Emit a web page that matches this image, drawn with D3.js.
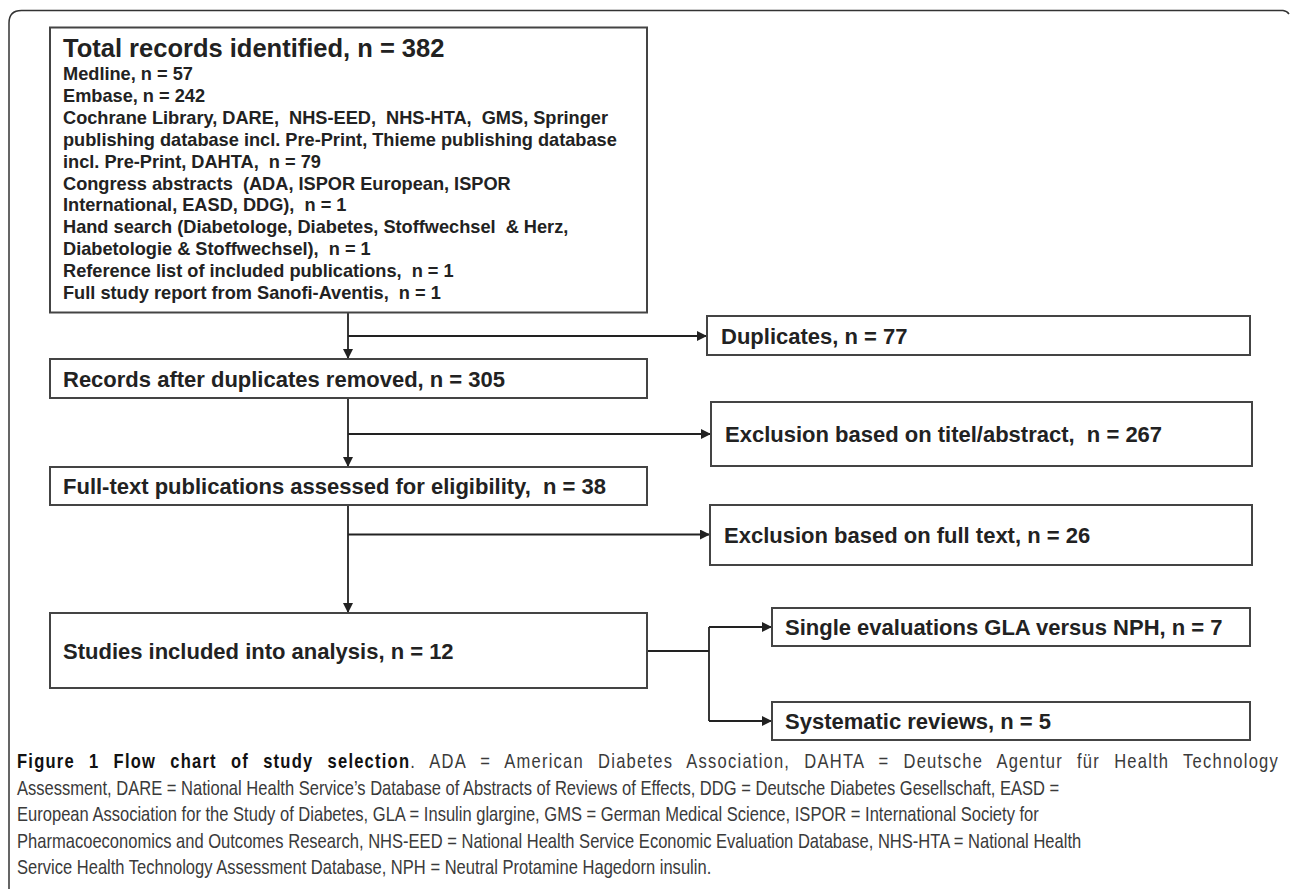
<!DOCTYPE html>
<html>
<head>
<meta charset="utf-8">
<script src="https://cdn.jsdelivr.net/npm/d3@7"></script>
<style>
  body { margin: 0; background: #fff; }
  svg text { white-space: pre; }
</style>
</head>
<body>
<svg id="chart" width="1290" height="889"></svg>
<script>
// ---- data ----
var totalLabel = "Total records identified";
var totalCount = 382;
var sourceLines = [
  "Medline, n = 57",
  "Embase, n = 242",
  "Cochrane Library, DARE,  NHS-EED,  NHS-HTA,  GMS, Springer",
  "publishing database incl. Pre-Print, Thieme publishing database",
  "incl. Pre-Print, DAHTA,  n = 79",
  "Congress abstracts  (ADA, ISPOR European, ISPOR",
  "International, EASD, DDG),  n = 1",
  "Hand search (Diabetologe, Diabetes, Stoffwechsel  & Herz,",
  "Diabetologie & Stoffwechsel),  n = 1",
  "Reference list of included publications,  n = 1",
  "Full study report from Sanofi-Aventis,  n = 1"
];
var stageLabels = ["Records after duplicates removed", "Full-text publications assessed for eligibility", "Studies included into analysis"];
var stageCounts = [305, 38, 12];
var exclusionLabels = ["Duplicates", "Exclusion based on titel/abstract", "Exclusion based on full text"];
var exclusionCounts = [77, 267, 26];
var outcomeLabels = ["Single evaluations GLA versus NPH", "Systematic reviews"];
var outcomeCounts = [7, 5];
var captionTitle = "Figure 1 Flow chart of study selection";
var captionLines = [
  ". ADA = American Diabetes Association, DAHTA = Deutsche Agentur für Health Technology",
  "Assessment, DARE = National Health Service’s Database of Abstracts of Reviews of Effects, DDG = Deutsche Diabetes Gesellschaft, EASD =",
  "European Association for the Study of Diabetes, GLA = Insulin glargine, GMS = German Medical Science, ISPOR = International Society for",
  "Pharmacoeconomics and Outcomes Research, NHS-EED = National Health Service Economic Evaluation Database, NHS-HTA = National Health",
  "Service Health Technology Assessment Database, NPH = Neutral Protamine Hagedorn insulin."
];

// ---- layout ----
var svg = d3.select("#chart");
var FONT = "'Liberation Sans', Arial, sans-serif";
var INK = "#222";
var BOX = "#444";

var leftX = 50, leftW = 597;
var stageBoxes = [
  {y: 359, h: 39},
  {y: 467, h: 38},
  {y: 613, h: 75}
];
var exclBoxes = [
  {x: 707, y: 316, w: 543, h: 39},
  {x: 711, y: 402, w: 541, h: 64},
  {x: 710, y: 505, w: 542, h: 60}
];
var outBoxes = [
  {x: 772, y: 608, w: 478, h: 38},
  {x: 772, y: 702, w: 478, h: 38}
];
var spineX = 348;
var branchY = [336, 434, 534.5];

svg.append("defs").append("marker")
  .attr("id", "arrowHead")
  .attr("viewBox", "0 0 10 10")
  .attr("refX", 10).attr("refY", 5)
  .attr("markerWidth", 10).attr("markerHeight", 10)
  .attr("markerUnits", "userSpaceOnUse")
  .attr("orient", "auto")
  .append("path").attr("d", "M0,0L10,5L0,10Z").attr("fill", INK);

// outer frame (only top and left edges show)
svg.append("path")
  .attr("d", "M9,889L9,23Q9,10.5 21.5,10.5L1283,10.5Q1287,11 1289,14")
  .attr("fill", "none").attr("stroke", "#333").attr("stroke-width", 1.5);

function box(x, y, w, h) {
  svg.append("rect").attr("x", x).attr("y", y).attr("width", w).attr("height", h)
    .attr("fill", "#fff").attr("stroke", BOX).attr("stroke-width", 2);
}
function line(pts, arrow) {
  var p = svg.append("path").attr("d", d3.line()(pts))
    .attr("fill", "none").attr("stroke", INK).attr("stroke-width", 1.8);
  if (arrow) p.attr("marker-end", "url(#arrowHead)");
}
function label(x, y, txt, size) {
  svg.append("text").attr("x", x).attr("y", y)
    .attr("font-family", FONT).attr("font-weight", "bold")
    .attr("font-size", size).attr("fill", INK).text(txt);
}

// ---- connectors ----
var boxBottoms = [27.5 + 285].concat(stageBoxes.map(function (b) { return b.y + b.h; }));
stageBoxes.forEach(function (b, i) {
  line([[spineX, boxBottoms[i]], [spineX, b.y]], true);
  line([[spineX, branchY[i]], [exclBoxes[i].x, branchY[i]]], true);
});
var forkX = 709, forkY = 651;
line([[leftX + leftW, forkY], [forkX, forkY]], false);
line([[forkX, outBoxes[0].y + outBoxes[0].h / 2], [forkX, outBoxes[1].y + outBoxes[1].h / 2]], false);
outBoxes.forEach(function (b) {
  line([[forkX, b.y + b.h / 2], [b.x, b.y + b.h / 2]], true);
});

// ---- boxes ----
box(leftX, 27.5, leftW, 285);
label(63, 57, totalLabel + ", n = " + totalCount, 25.5);
sourceLines.forEach(function (s, i) {
  label(63, 80 + i * 21.9, s, 18.2);
});

stageBoxes.forEach(function (b, i) {
  box(leftX, b.y, leftW, b.h);
  var sep = i === 1 ? ",  n = " : ", n = ";
  label(63, b.y + b.h / 2 + 8, stageLabels[i] + sep + stageCounts[i], 22);
});
exclBoxes.forEach(function (b, i) {
  box(b.x, b.y, b.w, b.h);
  var sep = i === 1 ? ",  n = " : ", n = ";
  label(b.x + 14, b.y + b.h / 2 + 8, exclusionLabels[i] + sep + exclusionCounts[i], 22);
});
outBoxes.forEach(function (b, i) {
  box(b.x, b.y, b.w, b.h);
  label(b.x + 13, b.y + b.h / 2 + 8, outcomeLabels[i] + ", n = " + outcomeCounts[i], 22);
});

// ---- caption (condensed face: squeeze a regular face horizontally) ----
var capX = 17, capY0 = 768, capStep = 26.5, capSize = 20;
var capTexts = [];
var first = svg.append("text").attr("font-family", FONT).attr("font-size", capSize).attr("fill", "#3a3a3a");
first.append("tspan").attr("font-weight", "bold").attr("fill", "#111").text(captionTitle);
first.append("tspan").text(captionLines[0]);
capTexts.push(first);
captionLines.slice(1).forEach(function (s) {
  capTexts.push(svg.append("text").attr("font-family", FONT).attr("font-size", capSize)
    .attr("fill", "#3a3a3a").text(s));
});
// line 2 ends near x = 1060 in the figure; squeeze all lines by that ratio
var k = (1060 - capX) / capTexts[1].node().getComputedTextLength();
capTexts.forEach(function (t, i) {
  t.attr("transform", "translate(" + capX + "," + (capY0 + i * capStep) + ") scale(" + k + ",1)");
});
// first line is justified to the full width: share slack between letters and word gaps
var full = captionTitle + captionLines[0];
var extra = (1279 - capX) / k - first.node().getComputedTextLength();
var gaps = full.split(" ").length - 1;
first.attr("letter-spacing", extra * 0.5 / full.length)
  .attr("word-spacing", extra * 0.5 / gaps);
</script>
</body>
</html>
